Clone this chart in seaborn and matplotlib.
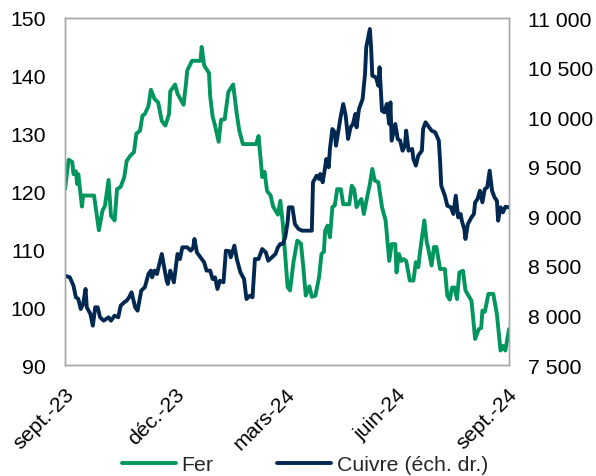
import matplotlib
matplotlib.use("Agg")
import matplotlib.pyplot as plt
import matplotlib.dates as mdates
from matplotlib.ticker import FuncFormatter, FixedLocator
from matplotlib.lines import Line2D
import seaborn as sns
import pandas as pd

# ---------------- data ----------------
fer_dates = [
    "2023-09-01", "2023-09-04", "2023-09-07", "2023-09-08", "2023-09-10", "2023-09-11",
    "2023-09-12", "2023-09-15", "2023-09-16", "2023-09-25", "2023-09-29", "2023-10-02",
    "2023-10-04", "2023-10-07", "2023-10-09", "2023-10-12", "2023-10-14", "2023-10-17",
    "2023-10-20", "2023-10-22", "2023-10-25", "2023-10-28", "2023-10-30", "2023-11-02",
    "2023-11-04", "2023-11-06", "2023-11-09", "2023-11-11", "2023-11-14", "2023-11-17",
    "2023-11-20", "2023-11-23", "2023-11-26", "2023-11-27", "2023-12-01", "2023-12-03",
    "2023-12-08", "2023-12-10", "2023-12-11", "2023-12-15", "2023-12-22", "2023-12-23",
    "2023-12-25", "2023-12-29", "2023-12-30", "2024-01-01", "2024-01-03", "2024-01-06",
    "2024-01-08", "2024-01-11", "2024-01-14", "2024-01-18", "2024-01-21", "2024-01-23",
    "2024-01-26", "2024-02-06", "2024-02-08", "2024-02-11", "2024-02-13", "2024-02-15",
    "2024-02-18", "2024-02-20", "2024-02-24", "2024-02-26", "2024-02-28", "2024-03-01",
    "2024-03-03", "2024-03-05", "2024-03-08", "2024-03-11", "2024-03-14", "2024-03-16",
    "2024-03-18", "2024-03-21", "2024-03-23", "2024-03-26", "2024-03-29", "2024-03-31",
    "2024-04-02", "2024-04-03", "2024-04-05", "2024-04-07", "2024-04-09", "2024-04-11",
    "2024-04-13", "2024-04-16", "2024-04-18", "2024-04-23", "2024-04-25", "2024-04-27",
    "2024-04-29", "2024-05-01", "2024-05-03", "2024-05-05", "2024-05-08", "2024-05-10",
    "2024-05-12", "2024-05-14", "2024-05-17", "2024-05-20", "2024-05-23", "2024-05-26",
    "2024-05-28", "2024-05-31", "2024-06-01", "2024-06-03", "2024-06-05", "2024-06-07",
    "2024-06-09", "2024-06-12", "2024-06-15", "2024-06-17", "2024-06-19", "2024-06-21",
    "2024-06-24", "2024-06-26", "2024-06-27", "2024-06-30", "2024-07-02", "2024-07-04",
    "2024-07-07", "2024-07-11", "2024-07-13", "2024-07-15", "2024-07-17", "2024-07-19",
    "2024-07-21", "2024-07-23", "2024-07-26", "2024-07-28", "2024-08-02", "2024-08-05",
    "2024-08-08", "2024-08-10", "2024-08-11", "2024-08-13", "2024-08-16", "2024-08-20",
    "2024-08-23", "2024-08-26", "2024-08-28", "2024-08-30", "2024-09-02",
]
fer_values = [
    120.4, 125.5, 125.1, 123.0, 123.5, 121.3,
    123.0, 117.4, 119.3, 119.3, 113.3, 116.7,
    117.5, 122.0, 115.8, 115.0, 120.4, 120.8,
    122.5, 125.3, 126.2, 126.8, 130.0, 130.5,
    133.1, 133.4, 134.8, 137.6, 136.0, 135.4,
    132.2, 131.4, 133.4, 137.3, 138.5, 136.9,
    135.0, 138.6, 140.9, 142.6, 142.6, 145.0,
    141.8, 140.5, 136.5, 133.0, 131.4, 128.6,
    132.4, 132.5, 137.2, 138.5, 133.4, 130.6,
    128.2, 128.2, 129.6, 122.5, 123.4, 120.1,
    119.3, 117.4, 116.0, 118.4, 114.5, 109.0,
    103.5, 102.9, 108.0, 111.5, 111.0, 106.9,
    102.0, 103.6, 101.8, 102.0, 105.2, 109.2,
    109.6, 113.2, 114.1, 112.1, 117.3, 117.6,
    120.4, 120.4, 117.8, 117.8, 121.0, 120.4,
    117.3, 118.1, 118.7, 116.1, 119.3, 121.3,
    123.9, 121.9, 121.6, 117.3, 115.0, 108.0,
    110.9, 110.9, 106.0, 109.2, 108.0, 108.3,
    108.0, 104.6, 104.6, 107.8, 106.9, 110.4,
    115.0, 111.2, 110.4, 107.2, 110.4, 110.4,
    106.6, 106.6, 102.0, 101.3, 103.4, 103.4,
    101.4, 106.0, 106.3, 102.9, 101.1, 94.5,
    96.2, 96.4, 99.4, 99.2, 102.3, 102.3,
    98.8, 92.5, 93.3, 92.5, 96.2,
]

cuivre_dates = [
    "2023-09-01", "2023-09-05", "2023-09-08", "2023-09-10", "2023-09-12", "2023-09-14",
    "2023-09-16", "2023-09-18", "2023-09-19", "2023-09-22", "2023-09-24", "2023-09-26",
    "2023-09-28", "2023-09-30", "2023-10-03", "2023-10-07", "2023-10-09", "2023-10-12",
    "2023-10-15", "2023-10-17", "2023-10-20", "2023-10-22", "2023-10-24", "2023-10-26",
    "2023-10-29", "2023-10-31", "2023-11-03", "2023-11-06", "2023-11-09", "2023-11-11",
    "2023-11-12", "2023-11-14", "2023-11-16", "2023-11-17", "2023-11-20", "2023-11-22",
    "2023-11-24", "2023-11-25", "2023-11-27", "2023-11-30", "2023-12-03", "2023-12-05",
    "2023-12-07", "2023-12-11", "2023-12-14", "2023-12-16", "2023-12-17", "2023-12-19",
    "2023-12-22", "2023-12-25", "2023-12-27", "2023-12-30", "2024-01-01", "2024-01-03",
    "2024-01-05", "2024-01-07", "2024-01-10", "2024-01-12", "2024-01-15", "2024-01-16",
    "2024-01-19", "2024-01-21", "2024-01-24", "2024-01-27", "2024-01-29", "2024-02-01",
    "2024-02-03", "2024-02-04", "2024-02-05", "2024-02-08", "2024-02-09", "2024-02-11",
    "2024-02-14", "2024-02-16", "2024-02-19", "2024-02-22", "2024-02-24", "2024-02-26",
    "2024-02-28", "2024-03-01", "2024-03-03", "2024-03-04", "2024-03-07", "2024-03-09",
    "2024-03-12", "2024-03-15", "2024-03-23", "2024-03-24", "2024-03-27", "2024-03-29",
    "2024-03-30", "2024-04-01", "2024-04-03", "2024-04-04", "2024-04-06", "2024-04-07",
    "2024-04-09", "2024-04-11", "2024-04-12", "2024-04-14", "2024-04-16", "2024-04-18",
    "2024-04-20", "2024-04-22", "2024-04-24", "2024-04-26", "2024-04-28", "2024-04-29",
    "2024-05-01", "2024-05-04", "2024-05-06", "2024-05-07", "2024-05-10", "2024-05-11",
    "2024-05-12", "2024-05-15", "2024-05-17", "2024-05-18", "2024-05-20", "2024-05-22",
    "2024-05-24", "2024-05-26", "2024-05-27", "2024-05-28", "2024-05-31", "2024-06-02",
    "2024-06-04", "2024-06-06", "2024-06-08", "2024-06-09", "2024-06-11", "2024-06-14",
    "2024-06-15", "2024-06-17", "2024-06-19", "2024-06-22", "2024-06-23", "2024-06-25",
    "2024-06-27", "2024-06-30", "2024-07-03", "2024-07-06", "2024-07-07", "2024-07-08",
    "2024-07-11", "2024-07-13", "2024-07-16", "2024-07-18", "2024-07-20", "2024-07-22",
    "2024-07-24", "2024-07-25", "2024-07-27", "2024-07-28", "2024-07-30", "2024-08-02",
    "2024-08-04", "2024-08-05", "2024-08-07", "2024-08-09", "2024-08-11", "2024-08-13",
    "2024-08-15", "2024-08-17", "2024-08-19", "2024-08-21", "2024-08-23", "2024-08-24",
    "2024-08-26", "2024-08-28", "2024-08-30", "2024-09-02",
]
cuivre_values = [
    8401, 8384, 8300, 8183, 8166, 8065,
    8116, 8267, 8082, 8015, 7897, 8082,
    8082, 7981, 7947, 7981, 7947, 7998,
    7981, 8098, 8133, 8150, 8183, 8233,
    8082, 8048, 8250, 8284, 8418, 8452,
    8384, 8452, 8418, 8468, 8620, 8485,
    8350, 8317, 8452, 8334, 8620, 8569,
    8687, 8687, 8653, 8687, 8771, 8636,
    8586, 8536, 8452, 8452, 8367, 8384,
    8267, 8350, 8334, 8653, 8647, 8586,
    8704, 8569, 8435, 8367, 8166, 8200,
    8183, 8384, 8569, 8569, 8603, 8670,
    8636, 8552, 8586, 8620, 8687, 8721,
    8721, 8788, 8939, 9090, 9090, 8922,
    8872, 8855, 8855, 9343, 9410, 9376,
    9427, 9343, 9494, 9578, 9494, 9679,
    9880, 9847, 9712, 9864, 10015, 10133,
    10015, 9780, 9897, 9931, 10032, 9897,
    10082, 10183, 10435, 10704, 10889, 10704,
    10418, 10401, 10317, 10503, 10065, 10048,
    10133, 9931, 10149, 9763, 9931, 9780,
    9763, 9662, 9713, 9864, 9662, 9679,
    9578, 9511, 9612, 9662, 9880, 9948,
    9914, 9864, 9847, 9763, 9561, 9309,
    9208, 9107, 9090, 9023, 9208, 8990,
    9023, 8956, 8872, 8771, 8922, 8990,
    9023, 9141, 9174, 9258, 9141, 9275,
    9292, 9460, 9258, 9191, 9157, 8956,
    9090, 9040, 9096, 9090,
]

tick_dates = ["2023-09-01", "2023-12-01", "2024-03-01", "2024-06-01", "2024-09-01"]
tick_labels = ["sept.-23", "déc.-23", "mars-24", "juin-24", "sept.-24"]
left_ticks = [90, 100, 110, 120, 130, 140, 150]
right_ticks = [7500, 8000, 8500, 9000, 9500, 10000, 10500, 11000]
series_names = ["Fer", "Cuivre (éch. dr.)"]

# ---------------- style ----------------
sns.set_theme(style="white")
plt.rcParams["font.family"] = ["Liberation Sans", "DejaVu Sans"]

GREEN = "#00965E"
NAVY = "#002850"
FRAME = "#A6A6A6"
FS = 15.3
LW = 2.8

fer_df = pd.DataFrame({"date": pd.to_datetime(fer_dates), "val": fer_values})
cu_df = pd.DataFrame({"date": pd.to_datetime(cuivre_dates), "val": cuivre_values})

fig = plt.figure(figsize=(5.96, 4.77), dpi=100)
ax = fig.add_axes([65 / 596, 1 - 366 / 477, 444 / 596, 347 / 477])
ax2 = ax.twinx()

sns.lineplot(data=fer_df, x="date", y="val", ax=ax, color=GREEN, linewidth=LW)
sns.lineplot(data=cu_df, x="date", y="val", ax=ax2, color=NAVY, linewidth=LW)

ax.set_ylim(90, 150)
ax2.set_ylim(7500, 11000)
ax.set_xlim(pd.Timestamp("2023-09-01"), pd.Timestamp("2024-09-02"))

ax.yaxis.set_major_locator(FixedLocator(left_ticks))
ax2.yaxis.set_major_locator(FixedLocator(right_ticks))
ax2.yaxis.set_major_formatter(FuncFormatter(lambda v, p: f"{v:,.0f}".replace(",", " ")))

tick_pos = mdates.date2num(pd.to_datetime(tick_dates))
ax.set_xticks(tick_pos)
ax.set_xticklabels(tick_labels, rotation=45, ha="right", rotation_mode="anchor")

for a in (ax, ax2):
    a.set_xlabel("")
    a.set_ylabel("")
    a.grid(False)
    for s in a.spines.values():
        s.set_color(FRAME)
        s.set_linewidth(1.0)
    a.tick_params(length=0, labelsize=FS, colors="black")

ax.tick_params(axis="y", pad=14)
ax2.tick_params(axis="y", pad=14)
ax.tick_params(axis="x", pad=14)

handles = [Line2D([0], [0], color=GREEN, lw=LW), Line2D([0], [0], color=NAVY, lw=LW)]
fig.legend(handles, series_names, loc="center", bbox_to_anchor=(0.5 + 7 / 596, 1 - 466 / 477),
           ncol=2, frameon=False, fontsize=FS, handlelength=2.55, handletextpad=0.25,
           columnspacing=3.0)

fig.savefig("out.png", dpi=100)
